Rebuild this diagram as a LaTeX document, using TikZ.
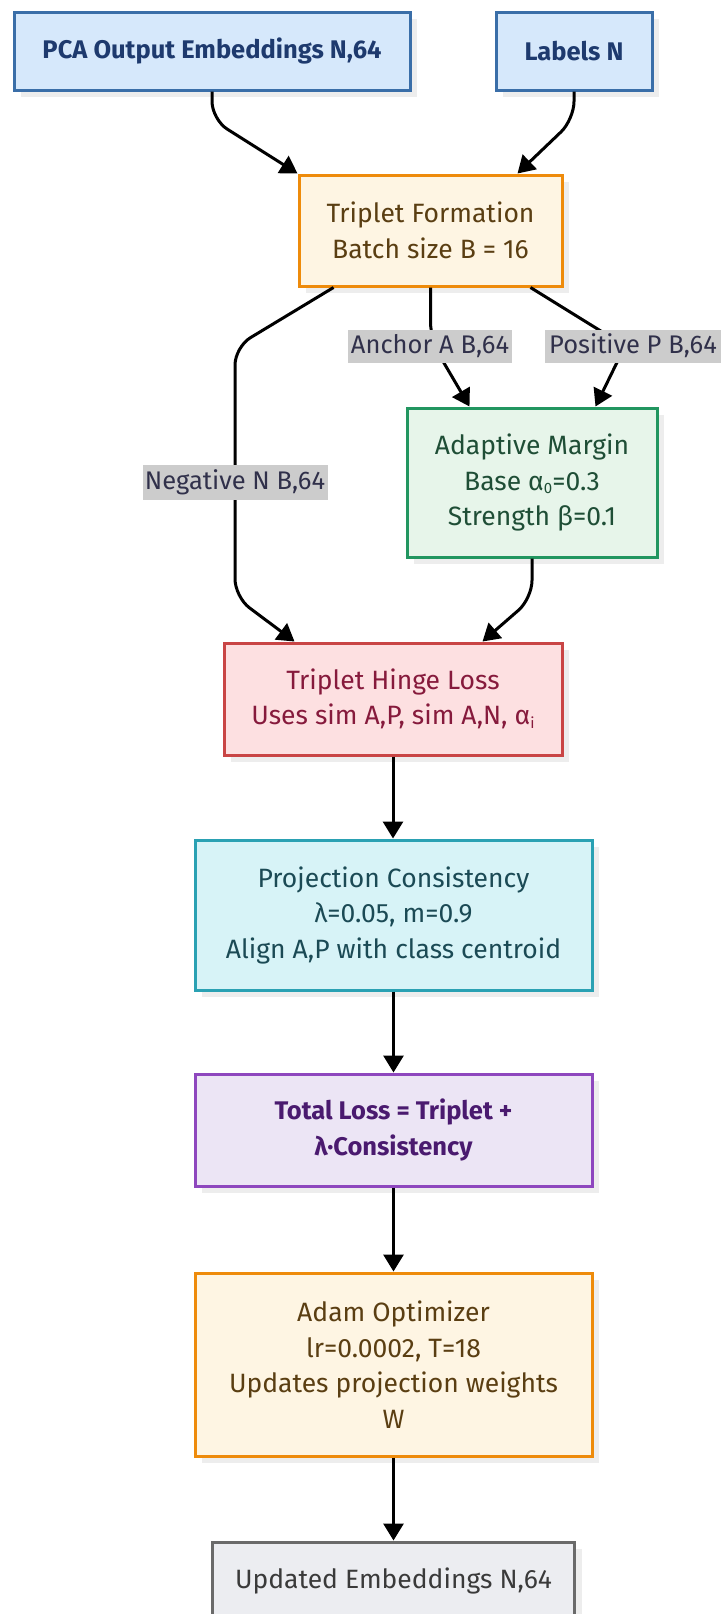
\documentclass[tikz,border=0pt]{standalone}
\usepackage{fontspec}
\setmainfont{Fira Sans}
\usetikzlibrary{arrows.meta,shadows}

\definecolor{bluefill}{HTML}{D6E8FB}
\definecolor{blueline}{HTML}{3A6EA8}
\definecolor{bluetext}{HTML}{1E3A6E}
\definecolor{orangefill}{HTML}{FEF5E3}
\definecolor{orangeline}{HTML}{EE8B0B}
\definecolor{orangetext}{HTML}{5A3E12}
\definecolor{greenfill}{HTML}{E7F5EA}
\definecolor{greenline}{HTML}{229660}
\definecolor{greentext}{HTML}{1F4E36}
\definecolor{redfill}{HTML}{FDE0E1}
\definecolor{redline}{HTML}{C94545}
\definecolor{redtext}{HTML}{861A3C}
\definecolor{cyanfill}{HTML}{D7F3F7}
\definecolor{cyanline}{HTML}{2AA1B3}
\definecolor{cyantext}{HTML}{1B4A55}
\definecolor{purplefill}{HTML}{ECE5F5}
\definecolor{purpleline}{HTML}{8E47BE}
\definecolor{purpletext}{HTML}{4A1A6F}
\definecolor{grayfill}{HTML}{ECEDF1}
\definecolor{grayline}{HTML}{6A6A6A}
\definecolor{graytext}{HTML}{3A3A3A}
\definecolor{labelfill}{HTML}{CCCCCC}
\definecolor{labeltext}{HTML}{30304A}

\newcommand{\lowsub}[1]{\raisebox{-0.25ex}{\fontsize{15}{15}\selectfont #1}}

\tikzset{
  box/.style={draw, line width=3pt, inner sep=0pt, align=center,
    font=\fontsize{26.5}{35.5}\selectfont,
    drop shadow={shadow xshift=7pt, shadow yshift=-7pt, fill=black!7, opacity=1}},
  inbox/.style={box, fill=bluefill, draw=blueline, text=bluetext,
    font=\fontsize{25.5}{35.5}\selectfont\bfseries},
  orangebox/.style={box, fill=orangefill, draw=orangeline, text=orangetext},
  greenbox/.style={box, fill=greenfill, draw=greenline, text=greentext},
  redbox/.style={box, fill=redfill, draw=redline, text=redtext},
  cyanbox/.style={box, fill=cyanfill, draw=cyanline, text=cyantext},
  purplebox/.style={box, fill=purplefill, draw=purpleline, text=purpletext,
    font=\fontsize{25.5}{35.5}\selectfont\bfseries},
  graybox/.style={box, fill=grayfill, draw=grayline, text=graytext},
  edge/.style={line width=3pt, black, rounded corners=18pt,
    -{Triangle[length=17pt,width=20pt]}},
  elabel/.style={fill=labelfill, text=labeltext, inner sep=0pt,
    minimum height=33pt, font=\fontsize{25.5}{28}\selectfont}
}

\begin{document}
\begin{tikzpicture}[x=1pt,y=-1pt]
\useasboundingbox (0,0) rectangle (723,1614);
\clip (0,0) rectangle (723,1614);

% inputs
\node[inbox, minimum width=396pt, minimum height=78pt] (pca) at (212,51) {PCA Output Embeddings N,64};
\node[inbox, minimum width=156pt, minimum height=78pt] (labels) at (574,51) {Labels N};

% triplet mining and margin
\node[orangebox, minimum width=263pt, minimum height=111pt] (trip) at (430.5,230.5) {Triplet Formation\\Batch size B = 16};
\node[greenbox, minimum width=250pt, minimum height=149pt] (adapt) at (532,482.5) {Adaptive Margin\\Base α\lowsub{0}=0.3\\Strength β=0.1};

% losses
\node[redbox, minimum width=338pt, minimum height=112pt] (hinge) at (393,699) {Triplet Hinge Loss\\Uses sim A,P, sim A,N, α\lowsub{i}};
\node[cyanbox, minimum width=397pt, minimum height=150pt] (proj) at (393.5,915) {Projection Consistency\\λ=0.05, m=0.9\\Align A,P with class centroid};
\node[purplebox, minimum width=397pt, minimum height=112pt] (total) at (393.5,1130) {Total Loss = Triplet +\\λ·Consistency};

% optimisation
\node[orangebox, minimum width=397pt, minimum height=183pt] (adam) at (393.5,1364.5) {Adam Optimizer\\lr=0.0002, T=18\\Updates projection weights\\W};
\node[graybox, minimum width=362pt, minimum height=78pt] (upd) at (393.5,1581) {Updated Embeddings N,64};

% connectors
\draw[edge] (pca.south) -- ++(0,28) -- (trip.north west);
\draw[edge] (labels.south) -- ++(0,28) -- ([xshift=-46pt]trip.north east);

\draw[edge] ([xshift=36pt]trip.south west) -- (235,347) -- (235,597) -- ([xshift=72pt]hinge.north west);
\draw[edge] (trip.south) -- (430.5,340) -- ([xshift=64pt]adapt.north west);
\draw[edge] ([xshift=-33pt]trip.south east) -- (625,346) -- ([xshift=-63pt]adapt.north east);

\draw[edge] (adapt.south) -- ++(0,40) -- ([xshift=-81pt]hinge.north east);

\draw[edge] (hinge.south) -- (hinge.south |- proj.north);
\draw[edge] (proj.south) -- (total.north);
\draw[edge] (total.south) -- (adam.north);
\draw[edge] (adam.south) -- (adam.south |- upd.north);

% edge labels
\node[elabel, minimum width=164pt] (lanchor) at (430,346) {Anchor A B,64};
\node[elabel, minimum width=176pt] (lpos) at (633,346) {Positive P B,64};
\node[elabel, minimum width=185pt, minimum height=35pt] (lneg) at (235,482.5) {Negative N B,64};
\end{tikzpicture}
\end{document}
